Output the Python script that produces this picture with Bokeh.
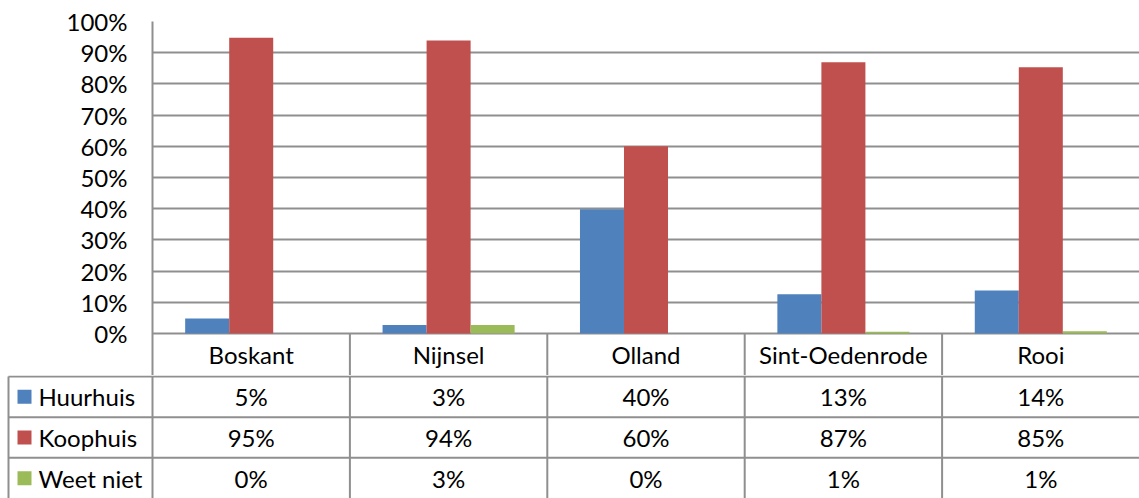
from bokeh.plotting import figure
from bokeh.models import FactorRange, Range1d, FixedTicker, ColumnDataSource
from bokeh.transform import dodge
from bokeh.core.properties import value
from bokeh.embed import file_html
from bokeh.resources import INLINE

# ---------------- data ----------------
cats = ["Boskant", "Nijnsel", "Olland", "Sint-Oedenrode", "Rooi"]
series = ["Huurhuis", "Koophuis", "Weet niet"]
huurhuis = [4.8, 2.7, 39.8, 12.6, 13.8]
koophuis = [94.8, 93.9, 60.0, 86.9, 85.3]
weet_niet = [0.0, 2.7, 0.0, 0.6, 0.7]
y_ticks = [0, 10, 20, 30, 40, 50, 60, 70, 80, 90, 100]
y_tick_labels = ["0%", "10%", "20%", "30%", "40%", "50%", "60%", "70%", "80%", "90%", "100%"]

# ---------------- style ----------------
colors = ["#4F81BD", "#C0504D", "#9BBB59"]
FONT = "Lato"
FS = "24px"
GRID = "#8f8f8f"
LW = 2

W = 1139
LEFT = 152
TOP = 21
PLOT_H = 312
HEAD_H = 42
ROW_H = 41
TABLE_LEFT = 8
BAR_W = 0.223

ncat = len(cats)
cat_w = (W - LEFT) / ncat
head_units = HEAD_H / PLOT_H * 100

src = ColumnDataSource(dict(cats=cats, huur=huurhuis, koop=koophuis, weet=weet_niet))

# ---------------- chart ----------------
p = figure(width=W, height=TOP + PLOT_H + HEAD_H,
           x_range=FactorRange(*cats), y_range=Range1d(-head_units, 100),
           output_backend="svg", toolbar_location=None,
           x_axis_location=None,
           min_border_left=LEFT, min_border_right=0,
           min_border_top=TOP, min_border_bottom=0)
p.outline_line_color = None
p.background_fill_color = "white"
p.border_fill_color = "white"

p.yaxis.ticker = FixedTicker(ticks=y_ticks)
p.yaxis.major_label_overrides = dict(zip(y_ticks, y_tick_labels))
p.yaxis.major_tick_out = 0
p.yaxis.major_tick_in = 0
p.yaxis.minor_tick_out = 0
p.yaxis.minor_tick_in = 0
p.yaxis.major_label_standoff = 25
p.yaxis.axis_line_color = GRID
p.yaxis.axis_line_width = LW
p.yaxis.major_label_text_font = FONT
p.yaxis.major_label_text_font_size = FS
p.yaxis.major_label_text_color = "black"

p.xgrid.visible = False
p.ygrid.ticker = FixedTicker(ticks=y_ticks)
p.ygrid.grid_line_color = GRID
p.ygrid.grid_line_alpha = 1.0
p.ygrid.grid_line_width = LW

for key, off, col in zip(["huur", "koop", "weet"], [-BAR_W, 0, BAR_W], colors):
    p.vbar(x=dodge("cats", off, range=p.x_range), top=key, bottom=0,
           width=BAR_W, color=col, line_color=None, source=src)

# header row (category names)
p.segment(x0=list(range(1, ncat)), y0=[-head_units] * (ncat - 1),
          x1=list(range(1, ncat)), y1=[0] * (ncat - 1), line_color=GRID, line_width=LW)
p.text(x=cats, y=[-head_units / 2] * ncat, text=cats,
       text_align="center", text_baseline="middle",
       text_font=value(FONT), text_font_size=FS, text_color="black")

# ---------------- data table ----------------
x_start = -LEFT / cat_w
x_left = -(LEFT - TABLE_LEFT) / cat_w
nrow = len(series)
t = figure(width=W, height=nrow * ROW_H,
           x_range=Range1d(x_start, ncat), y_range=Range1d(0, nrow + 1 / ROW_H),
           output_backend="svg", toolbar_location=None,
           x_axis_location=None, y_axis_location=None,
           min_border=0)
t.outline_line_color = None
t.grid.visible = False
t.background_fill_color = "white"
t.border_fill_color = "white"

# horizontal lines
t.segment(x0=[x_left] * nrow, y0=list(range(nrow, 0, -1)),
          x1=[ncat] * nrow, y1=list(range(nrow, 0, -1)), line_color=GRID, line_width=LW)
# vertical lines
vx = [x_left] + list(range(0, ncat))
t.segment(x0=vx, y0=[0] * len(vx), x1=vx, y1=[nrow] * len(vx), line_color=GRID, line_width=LW)

vals = [huurhuis, koophuis, weet_niet]
for r, (name, vlist, col) in enumerate(zip(series, vals, colors)):
    yc = nrow - r - 0.5
    t.scatter(x=[x_left + 16 / cat_w], y=[yc], marker="square", size=14,
              fill_color=col, line_color=None)
    t.text(x=[x_left + 30 / cat_w], y=[yc], text=[name],
           text_align="left", text_baseline="middle",
           text_font=value(FONT), text_font_size=FS, text_color="black")
    labels = [f"{round(v):.0f}%" for v in vlist]
    t.text(x=[i + 0.5 for i in range(ncat)], y=[yc] * ncat, text=labels,
           text_align="center", text_baseline="middle",
           text_font=value(FONT), text_font_size=FS, text_color="black")

open("out.html", "w").write(file_html([p, t], INLINE))
